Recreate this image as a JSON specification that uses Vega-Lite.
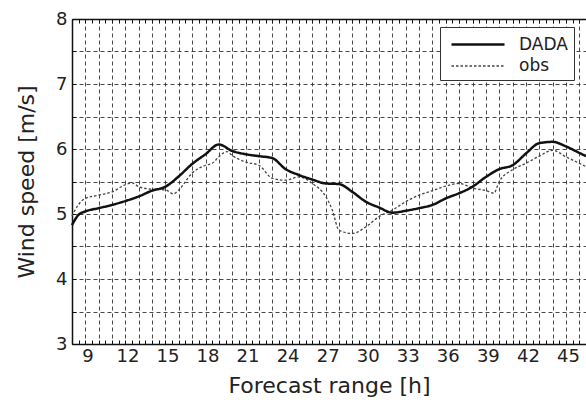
{
  "$schema": "https://vega.github.io/schema/vega-lite/v6.json",
  "width": 514,
  "height": 325,
  "autosize": "none",
  "padding": {"left": 72, "top": 19, "right": 0, "bottom": 58},
  "background": "white",
  "config": {
    "view": {"stroke": null},
    "font": "DejaVu Sans",
    "axis": {"domainColor": "#111", "domainWidth": 1.5, "tickColor": "#111", "tickWidth": 1, "labelColor": "#222", "titleColor": "#222", "titleFontWeight": "normal", "labelOverlap": false}
  },
  "data": {
    "values": [
      {"h": 8, "v": 4.83, "series": "DADA"},
      {"h": 8.5, "v": 4.99, "series": "DADA"},
      {"h": 9, "v": 5.04, "series": "DADA"},
      {"h": 10, "v": 5.09, "series": "DADA"},
      {"h": 11, "v": 5.14, "series": "DADA"},
      {"h": 12, "v": 5.2, "series": "DADA"},
      {"h": 13, "v": 5.27, "series": "DADA"},
      {"h": 14, "v": 5.36, "series": "DADA"},
      {"h": 15, "v": 5.42, "series": "DADA"},
      {"h": 16, "v": 5.58, "series": "DADA"},
      {"h": 17, "v": 5.77, "series": "DADA"},
      {"h": 18, "v": 5.92, "series": "DADA"},
      {"h": 19, "v": 6.07, "series": "DADA"},
      {"h": 20, "v": 5.97, "series": "DADA"},
      {"h": 21, "v": 5.92, "series": "DADA"},
      {"h": 22, "v": 5.89, "series": "DADA"},
      {"h": 23, "v": 5.86, "series": "DADA"},
      {"h": 24, "v": 5.69, "series": "DADA"},
      {"h": 25, "v": 5.6, "series": "DADA"},
      {"h": 26, "v": 5.53, "series": "DADA"},
      {"h": 27, "v": 5.47, "series": "DADA"},
      {"h": 28, "v": 5.46, "series": "DADA"},
      {"h": 29, "v": 5.34, "series": "DADA"},
      {"h": 30, "v": 5.19, "series": "DADA"},
      {"h": 31, "v": 5.1, "series": "DADA"},
      {"h": 32, "v": 5.02, "series": "DADA"},
      {"h": 33, "v": 5.05, "series": "DADA"},
      {"h": 34, "v": 5.09, "series": "DADA"},
      {"h": 35, "v": 5.14, "series": "DADA"},
      {"h": 36, "v": 5.24, "series": "DADA"},
      {"h": 37, "v": 5.32, "series": "DADA"},
      {"h": 38, "v": 5.42, "series": "DADA"},
      {"h": 39, "v": 5.57, "series": "DADA"},
      {"h": 40, "v": 5.69, "series": "DADA"},
      {"h": 41, "v": 5.75, "series": "DADA"},
      {"h": 42, "v": 5.93, "series": "DADA"},
      {"h": 43, "v": 6.09, "series": "DADA"},
      {"h": 44, "v": 6.11, "series": "DADA"},
      {"h": 45, "v": 6.04, "series": "DADA"},
      {"h": 46, "v": 5.94, "series": "DADA"},
      {"h": 46.5, "v": 5.89, "series": "DADA"},
      {"h": 8, "v": 4.97, "series": "obs"},
      {"h": 8.5, "v": 5.15, "series": "obs"},
      {"h": 9, "v": 5.24, "series": "obs"},
      {"h": 10, "v": 5.29, "series": "obs"},
      {"h": 11, "v": 5.34, "series": "obs"},
      {"h": 12, "v": 5.45, "series": "obs"},
      {"h": 12.5, "v": 5.48, "series": "obs"},
      {"h": 13, "v": 5.42, "series": "obs"},
      {"h": 14, "v": 5.38, "series": "obs"},
      {"h": 15, "v": 5.37, "series": "obs"},
      {"h": 15.6, "v": 5.31, "series": "obs"},
      {"h": 16, "v": 5.37, "series": "obs"},
      {"h": 17, "v": 5.63, "series": "obs"},
      {"h": 18, "v": 5.75, "series": "obs"},
      {"h": 18.5, "v": 5.78, "series": "obs"},
      {"h": 19, "v": 5.88, "series": "obs"},
      {"h": 19.6, "v": 5.96, "series": "obs"},
      {"h": 20, "v": 5.9, "series": "obs"},
      {"h": 21, "v": 5.8, "series": "obs"},
      {"h": 22, "v": 5.75, "series": "obs"},
      {"h": 23, "v": 5.55, "series": "obs"},
      {"h": 24, "v": 5.52, "series": "obs"},
      {"h": 25, "v": 5.57, "series": "obs"},
      {"h": 26, "v": 5.47, "series": "obs"},
      {"h": 27, "v": 5.27, "series": "obs"},
      {"h": 27.5, "v": 5.06, "series": "obs"},
      {"h": 28, "v": 4.75, "series": "obs"},
      {"h": 29, "v": 4.7, "series": "obs"},
      {"h": 30, "v": 4.8, "series": "obs"},
      {"h": 31, "v": 4.96, "series": "obs"},
      {"h": 32, "v": 5.06, "series": "obs"},
      {"h": 33, "v": 5.19, "series": "obs"},
      {"h": 34, "v": 5.29, "series": "obs"},
      {"h": 35, "v": 5.36, "series": "obs"},
      {"h": 36, "v": 5.43, "series": "obs"},
      {"h": 37, "v": 5.47, "series": "obs"},
      {"h": 38, "v": 5.4, "series": "obs"},
      {"h": 39, "v": 5.36, "series": "obs"},
      {"h": 39.6, "v": 5.32, "series": "obs"},
      {"h": 40, "v": 5.5, "series": "obs"},
      {"h": 41, "v": 5.68, "series": "obs"},
      {"h": 42, "v": 5.78, "series": "obs"},
      {"h": 43, "v": 5.89, "series": "obs"},
      {"h": 44, "v": 5.98, "series": "obs"},
      {"h": 45, "v": 5.88, "series": "obs"},
      {"h": 46, "v": 5.78, "series": "obs"},
      {"h": 46.5, "v": 5.73, "series": "obs"}
    ]
  },
  "encoding": {
    "x": {"field": "h", "type": "quantitative", "scale": {"domain": [8, 46.5], "nice": false, "zero": false}},
    "y": {"field": "v", "type": "quantitative", "scale": {"domain": [3, 8], "nice": false, "zero": false}},
    "color": {"field": "series", "type": "nominal", "scale": {"domain": ["DADA", "obs"], "range": ["#111111", "#444444"]},
      "legend": {"title": null, "orient": "none", "legendX": 368, "legendY": 8, "padding": 6, "strokeColor": "#333", "fillColor": "white", "symbolType": "M-0.6,0H4.7", "symbolSize": 400, "symbolStrokeWidth": 2.5, "labelFontSize": 17, "labelColor": "#222", "labelOffset": 50, "rowPadding": 2, "labelExpr": "datum.label + '   '"}},
    "strokeDash": {"field": "series", "type": "nominal", "scale": {"domain": ["DADA", "obs"], "range": [[1, 0], [2.5, 2]]}, "legend": {"title": null}},
    "strokeWidth": {"field": "series", "type": "nominal", "scale": {"domain": ["DADA", "obs"], "range": [2.5, 1.3]}, "legend": {"title": null}}
  },
  "layer": [
    {
      "transform": [{"filter": "datum.series === 'obs'"}],
      "mark": {"type": "line", "interpolate": "monotone"},
      "encoding": {
        "x": {"field": "h", "type": "quantitative", "axis": {
          "orient": "bottom",
          "values": [8,8.5,9,9.5,10,10.5,11,11.5,12,12.5,13,13.5,14,14.5,15,15.5,16,16.5,17,17.5,18,18.5,19,19.5,20,20.5,21,21.5,22,22.5,23,23.5,24,24.5,25,25.5,26,26.5,27,27.5,28,28.5,29,29.5,30,30.5,31,31.5,32,32.5,33,33.5,34,34.5,35,35.5,36,36.5,37,37.5,38,38.5,39,39.5,40,40.5,41,41.5,42,42.5,43,43.5,44,44.5,45,45.5,46,46.5],
          "labelExpr": "datum.value % 3 === 0 ? format(datum.value, 'd') : ''",
          "title": "Forecast range [h]",
          "titleFontSize": 22,
          "titlePadding": 10,
          "labelFontSize": 18,
          "labelPadding": 7,
          "labelOffset": 2,
          "labelFlush": false,
          "tickSize": -4,
          "grid": true,
          "gridColor": "#333",
          "gridDash": [4, 3],
          "gridWidth": 0.9,
          "gridOpacity": {"condition": {"test": "datum.value % 1 !== 0", "value": 0}, "value": 1}
        }},
        "y": {"field": "v", "type": "quantitative", "axis": {
          "values": [3,3.5,4,4.5,5,5.5,6,6.5,7,7.5,8],
          "labelExpr": "datum.value % 1 === 0 ? format(datum.value, 'd') : ''",
          "title": "Wind speed [m/s]",
          "titleFontSize": 22,
          "titlePadding": 17,
          "labelFontSize": 18,
          "labelPadding": 9,
          "tickSize": -4,
          "grid": true,
          "gridColor": "#333",
          "gridDash": [4, 3],
          "gridWidth": 0.9
        }}
      }
    },
    {
      "transform": [{"filter": "datum.series === 'DADA'"}],
      "mark": {"type": "line", "interpolate": "monotone"},
      "encoding": {
        "x": {"field": "h", "type": "quantitative", "axis": {
          "orient": "top",
          "values": [8,8.5,9,9.5,10,10.5,11,11.5,12,12.5,13,13.5,14,14.5,15,15.5,16,16.5,17,17.5,18,18.5,19,19.5,20,20.5,21,21.5,22,22.5,23,23.5,24,24.5,25,25.5,26,26.5,27,27.5,28,28.5,29,29.5,30,30.5,31,31.5,32,32.5,33,33.5,34,34.5,35,35.5,36,36.5,37,37.5,38,38.5,39,39.5,40,40.5,41,41.5,42,42.5,43,43.5,44,44.5,45,45.5,46,46.5],
          "labels": false,
          "title": null,
          "grid": false,
          "tickSize": -4
        }},
        "y": {"field": "v", "type": "quantitative", "axis": null}
      }
    }
  ],
  "resolve": {"axis": {"x": "independent", "y": "independent"}}
}
